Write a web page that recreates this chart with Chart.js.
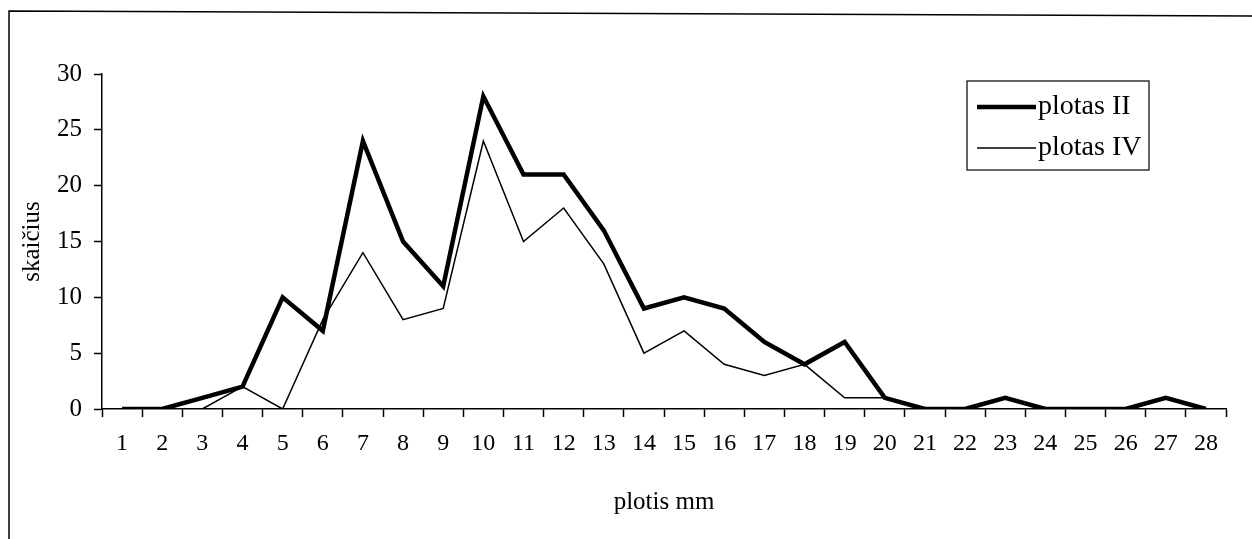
<!DOCTYPE html>
<html>
<head>
<meta charset="utf-8">
<script src="https://cdn.jsdelivr.net/npm/chart.js@4"></script>
<style>
  html, body { margin: 0; padding: 0; background: #fff; }
  #wrap { width: 1252px; height: 539px; }
</style>
</head>
<body>
<div id="wrap"><canvas id="myChart" width="1252" height="539"></canvas></div>
<script>
// plotis mm (categories)
const widths = ['1', '2', '3', '4', '5', '6', '7', '8', '9', '10', '11', '12', '13', '14',
  '15', '16', '17', '18', '19', '20', '21', '22', '23', '24', '25', '26', '27', '28'];

// skaičius per plotas
const plotasII = [0, 0, 1, 2, 10, 7, 24, 15, 11, 28, 21, 21, 16, 9,
  10, 9, 6, 4, 6, 1, 0, 0, 1, 0, 0, 0, 1, 0];
const plotasIV = [0, 0, 0, 2, 0, 8, 14, 8, 9, 24, 15, 18, 13, 5,
  7, 4, 3, 4, 1, 1, 0, 0, 0, 0, 0, 0, 0, 0];

const yTicks = [0, 5, 10, 15, 20, 25, 30];

const serif = "'Liberation Serif', 'Times New Roman', serif";

// frame round the chart and the boxed legend
const framePlugin = {
  id: 'framePlugin',
  afterDraw(chart) {
    const c = chart.ctx;
    c.save();
    c.strokeStyle = '#000';
    c.lineWidth = 1.5;
    c.beginPath();
    c.moveTo(9, 539);
    c.lineTo(9, 11);
    c.lineTo(1252, 16);
    c.stroke();

    // legend
    const box = { x: 967, y: 81, w: 182, h: 89 };
    c.lineWidth = 1.2;
    c.strokeRect(box.x, box.y, box.w, box.h);
    c.font = '28px ' + serif;
    c.textBaseline = 'middle';
    c.fillStyle = '#000';
    chart.data.datasets.forEach(function (ds, i) {
      const y = 107 + i * 41;
      c.lineWidth = ds.borderWidth;
      c.beginPath();
      c.moveTo(977, y);
      c.lineTo(1036, y);
      c.stroke();
      c.fillText(ds.label, 1038, y);
    });
    c.restore();
  }
};

let ctx = document.getElementById('myChart').getContext('2d');
let myChart = new Chart(ctx, {
  type: 'line',
  data: {
    labels: widths,
    datasets: [{
      label: 'plotas II',
      data: plotasII,
      borderColor: '#000',
      borderWidth: 4.5,
      pointRadius: 0,
      tension: 0,
      fill: false
    }, {
      label: 'plotas IV',
      data: plotasIV,
      borderColor: '#000',
      borderWidth: 1.5,
      pointRadius: 0,
      tension: 0,
      fill: false
    }]
  },
  options: {
    responsive: false,
    animation: false,
    layout: {
      padding: { top: 74, right: 26, left: 0, bottom: 0 }
    },
    plugins: {
      legend: { display: false },
      title: { display: false },
      tooltip: { enabled: false }
    },
    scales: {
      x: {
        type: 'category',
        offset: true,
        afterFit: function (scale) { scale.height = 130; },
        grid: {
          display: true,
          offset: true,
          drawOnChartArea: false,
          drawTicks: true,
          tickLength: 8,
          tickWidth: 1.5,
          tickColor: '#000'
        },
        border: { display: true, color: '#000', width: 1.5 },
        ticks: {
          color: '#000',
          font: { family: serif, size: 24 },
          padding: 12,
          maxRotation: 0,
          autoSkip: false
        },
        title: {
          display: true,
          text: 'plotis mm',
          color: '#000',
          font: { family: serif, size: 25 },
          padding: { top: 0, bottom: 22 }
        }
      },
      y: {
        min: 0,
        max: 30,
        afterFit: function (scale) { scale.width = 102; },
        afterBuildTicks: function (scale) {
          scale.ticks = yTicks.map(function (v) { return { value: v }; });
        },
        grid: {
          display: true,
          drawOnChartArea: false,
          drawTicks: true,
          tickLength: 8,
          tickWidth: 1.5,
          tickColor: '#000'
        },
        border: { display: true, color: '#000', width: 1.5 },
        ticks: {
          color: '#000',
          font: { family: serif, size: 25 },
          padding: 12
        },
        title: {
          display: true,
          text: 'skaičius',
          color: '#000',
          font: { family: serif, size: 25 },
          padding: { top: 17, bottom: 0 }
        }
      }
    }
  },
  plugins: [framePlugin]
});
</script>
</body>
</html>
